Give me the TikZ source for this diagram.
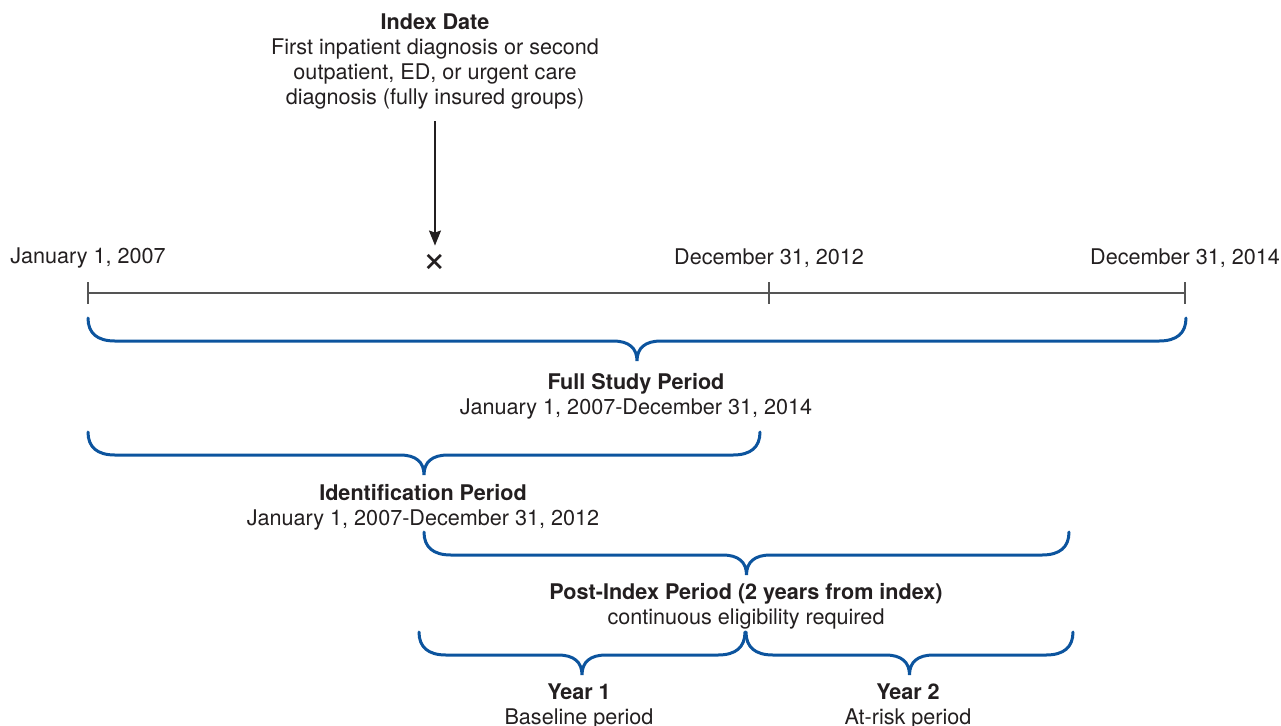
\documentclass[tikz,border=0pt]{standalone}
\usepackage{fontspec}
\setmainfont{TeX Gyre Heros}
\usetikzlibrary{arrows.meta}
\definecolor{periodblue}{RGB}{12,84,158}
\definecolor{axisgray}{RGB}{85,85,85}
\definecolor{textdark}{RGB}{35,31,32}

% brace under a period: left x, right x, top y
\newcommand{\periodbrace}[3]{%
  \draw[brace line] (#1,#3)
    .. controls (#1,#3+15) and (#1+9,#3+23) .. (#1+27,#3+23)
    -- ({(#1+#2)/2-24},#3+23)
    .. controls ({(#1+#2)/2-8},#3+23) and ({(#1+#2)/2},#3+30) .. ({(#1+#2)/2},#3+43)
    .. controls ({(#1+#2)/2},#3+30) and ({(#1+#2)/2+8},#3+23) .. ({(#1+#2)/2+24},#3+23)
    -- (#2-27,#3+23)
    .. controls (#2-9,#3+23) and (#2,#3+15) .. (#2,#3);
}

\begin{document}
\begin{tikzpicture}[x=0.5pt,y=-0.5pt,
    label text/.style={font=\fontsize{10.8}{12.5}\selectfont, align=center,
      inner sep=0pt, text=textdark},
    brace line/.style={draw=periodblue, line width=1.5pt, line cap=round},
    axis/.style={draw=axisgray, line width=0.7pt}]
  \useasboundingbox (0,0) rectangle (1281,725);

  % index date and arrow
  \node[label text] (index) at (435,61) {\textbf{Index Date}\\First inpatient diagnosis or second\\outpatient, ED, or urgent care\\diagnosis (fully insured groups)};
  \node[label text, font=\fontsize{21}{21}\selectfont] (cross) at (435,263) {×};
  \draw[-{Stealth[length=7.5pt,width=6pt,inset=1pt]}, draw=textdark, fill=textdark, line width=0.7pt, shorten <=6pt, shorten >=4pt] (index.south) -- (cross.north);

  % dates
  \node[label text] (start) at (88,258) {January 1, 2007};
  \node[label text] (mid) at (769,258) {December 31, 2012};
  \node[label text] (end) at (1185,258) {December 31, 2014};

  % time line
  \coordinate (t0) at (88,293);
  \coordinate (t1) at (769,293);
  \coordinate (t2) at (1185,293);
  \draw[axis] (t0) -- (t2);
  \foreach \t in {t0,t1,t2}
    \draw[axis] (\t) ++(0,-11) -- ++(0,22);

  % periods
  \periodbrace{88}{1186}{318}
  \node[label text] (full) at (636,396) {\textbf{Full Study Period}\\January 1, 2007-December 31, 2014};

  \periodbrace{88}{760}{432}
  \node[label text] (ident) at (423,507) {\textbf{Identification Period}\\January 1, 2007-December 31, 2012};

  \periodbrace{424}{1069}{532}
  \node[label text] (post) at (746,606.5) {\textbf{Post-Index Period (2 years from index)}\\continuous eligibility required};

  \periodbrace{419}{745}{632}
  \node[label text] (year1) at (579,706) {\textbf{Year 1}\\Baseline period};

  \periodbrace{746}{1073}{632}
  \node[label text] (year2) at (908,706) {\textbf{Year 2}\\At-risk period};
\end{tikzpicture}
\end{document}
